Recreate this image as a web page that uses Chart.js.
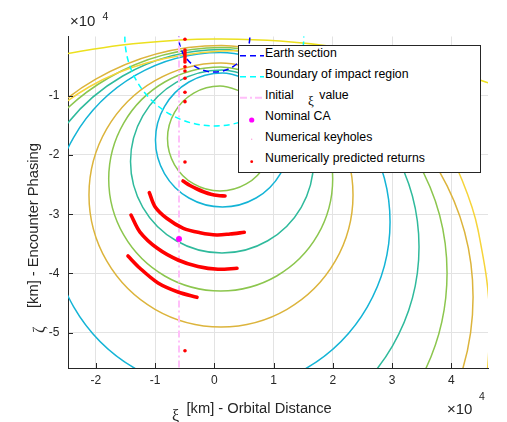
<!DOCTYPE html>
<html><head><meta charset="utf-8">
<script src="https://cdn.jsdelivr.net/npm/chart.js@4.4.1/dist/chart.umd.min.js"></script>
<style>
html,body{margin:0;padding:0;background:#fff;}
#wrap{position:relative;width:507px;height:422px;overflow:hidden;font-family:"Liberation Sans",Arial,sans-serif;color:#262626;}
#c{position:absolute;left:0;top:0;}
.t{position:absolute;white-space:nowrap;line-height:1;}
.serif{font-family:"Liberation Serif","DejaVu Serif",serif;}
#legend{position:absolute;left:238px;top:45px;width:241px;height:126px;background:#fff;border:1px solid #262626;color:#000;}
#legend .t{font-size:12.3px;}
.rot{transform-origin:0 0;transform:rotate(-90deg);}
</style></head>
<body><div id="wrap">
<canvas id="c" width="507" height="422"></canvas>

<div class="t" style="left:70px;top:13px;font-size:15px;">×10</div>
<div class="t" style="left:102.5px;top:10.5px;font-size:10.5px;">4</div>
<div class="t" style="left:447px;top:401px;font-size:15px;">×10</div>
<div class="t" style="left:479px;top:391px;font-size:10.5px;">4</div>

<div class="t serif" style="left:172px;top:407.5px;font-size:16px;">ξ</div>
<div class="t" style="left:186.5px;top:400.9px;font-size:14.7px;">[km] - Orbital Distance</div>
<div class="t serif rot" style="left:31px;top:333px;font-size:16px;">ζ</div>
<div class="t rot" style="left:26.4px;top:308px;font-size:14.7px;">[km] - Encounter Phasing</div>

<div id="legend">
  <svg width="241" height="126" style="position:absolute;left:0;top:0;">
    <line x1="1" y1="9.8" x2="25" y2="9.8" stroke="#0000ff" stroke-width="1.5" stroke-dasharray="6,4"/>
    <line x1="1" y1="30.8" x2="25" y2="30.8" stroke="#00ffff" stroke-width="1.5" stroke-dasharray="6,4"/>
    <line x1="1" y1="51.8" x2="25" y2="51.8" stroke="#ffbff9" stroke-width="2" stroke-dasharray="7,3,2,3"/>
    <circle cx="12.7" cy="74" r="2.6" fill="#ff00ff"/>
    <circle cx="12.7" cy="93.3" r="0.7" fill="#ff9ad8"/>
    <circle cx="12.7" cy="115.7" r="1.4" fill="#ff0000"/>
  </svg>
  <div class="t" style="left:26px;top:0.9px;">Earth section</div>
  <div class="t" style="left:26px;top:21.9px;">Boundary of impact region</div>
  <div class="t" style="left:26px;top:42.9px;">Initial</div>
  <div class="t serif" style="left:69px;top:47.6px;font-size:13px;">ξ</div>
  <div class="t" style="left:80.3px;top:42.9px;">value</div>
  <div class="t" style="left:26px;top:63.9px;">Nominal CA</div>
  <div class="t" style="left:26px;top:84.9px;">Numerical keyholes</div>
  <div class="t" style="left:26px;top:105.9px;">Numerically predicted returns</div>
</div>
</div>
<script>
// ---- axis ticks (km) ----
const xiTicks = [-20000, -10000, 0, 10000, 20000, 30000, 40000];
const zetaTicks = [-50000, -40000, -30000, -20000, -10000];
const xiLimits = [-24690, 46190];
const zetaLimits = [-55950, 0];

// ---- contour curves, points [xi, zeta] in km ----
const contourGoldInner = [[12270,-7460],[1130,-4470],[-10010,-7460],[-18160,-15610],[-21150,-26750],[-18160,-37890],[-10010,-46050],[1130,-49030],[12270,-46050],[20430,-37890],[23410,-26750],[20430,-15610],[12270,-7460]];
const contourGreenMid = [[10530,-7680],[1080,-5150],[-8370,-7680],[-15290,-14600],[-17820,-24050],[-15290,-33500],[-8370,-40420],[1080,-42950],[10530,-40420],[17450,-33500],[19980,-24050],[17450,-14600],[10530,-7680]];
const contourTealMid = [[9020,-7730],[1300,-5660],[-6420,-7730],[-12070,-13380],[-14140,-21100],[-12070,-28820],[-6420,-34470],[1300,-36540],[9020,-34470],[14670,-28820],[16740,-21100],[14670,-13380],[9020,-7730]];
const contourCyanSmall = [[7040,-7680],[1380,-6160],[-4280,-7680],[-8410,-11820],[-9930,-17470],[-8410,-23130],[-4280,-27260],[1380,-28780],[7040,-27260],[11170,-23130],[12690,-17470],[11170,-11820],[7040,-7680]];
const contourGreenInner = [[5390,-9550],[960,-8360],[-3470,-9550],[-6710,-12790],[-7900,-17220],[-6710,-21650],[-3470,-24890],[960,-26080],[5390,-24890],[8630,-21650],[9820,-17220],[8630,-12790],[5390,-9550]];
const contourCyanOuter = [[15360,-6530],[1050,-2700],[-13260,-6530],[-23730,-17010],[-27560,-31310],[-23730,-45620],[-13260,-56090],[1050,-59920],[15360,-56090],[25830,-45620],[29660,-31310],[25830,-17010],[15360,-6530]];
const contourTealOuter = [[17890,-6670],[1220,-2200],[-15450,-6670],[-27640,-18870],[-32110,-35530],[-27640,-52200],[-15450,-64390],[1220,-68860],[17890,-64390],[30080,-52200],[34550,-35530],[30080,-18870],[17890,-6670]];
const contourGreenOuter = [[20250,-6960],[1220,-1860],[-17810,-6960],[-31740,-20890],[-36840,-39920],[-31740,-58950],[-17810,-72880],[1220,-77980],[20250,-72880],[34180,-58950],[39280,-39920],[34180,-20890],[20250,-6960]];
const contourGoldOuter = [[22450,-7210],[1220,-1520],[-20010,-7210],[-35540,-22750],[-41230,-43970],[-35540,-65200],[-20010,-80730],[1220,-86420],[22450,-80730],[37980,-65200],[43670,-43970],[37980,-22750],[22450,-7210]];
const contourYellowOuter = [[37670,-15780],[41810,-24220],[44510,-32660],[46450,-48190],[44270,-64730],[34720,-81600],[1810,-94260],[-21150,-88020],[-37860,-71310],[-44100,-48350],[-37860,-25400],[-21150,-8520],[1300,-2450],[21220,-5990],[37670,-15780]];
const contourYellowTop = [[-26040,-3090],[-15900,-1470],[-5790,-590],[1220,-420],[11090,-780],[21220,-1860],[31340,-3680],[41470,-6300],[48220,-8490]];

// ---- other series ----
const earthSection = [[0,6000],[-3000,5200],[-5200,3000],[-6000,0],[-5200,-3000],[-3000,-5200],[0,-6000],[3000,-5200],[5200,-3000],[6000,0],[5200,3000],[3000,5200],[0,6000]];
const impactBoundary = [[0,15100],[-7550,13080],[-13080,7550],[-15100,0],[-13080,-7550],[-7550,-13080],[0,-15100],[7550,-13080],[13080,-7550],[15100,0],[13080,7550],[7550,13080],[0,15100]];
const initialXi = [[-5960,1000],[-5960,-57000]];
const nominalCA = [[-5960,-34180]];
const returnDots = [[-4950,-470],[-4950,-2280],[-4950,-2610],[-4950,-2950],[-4950,-3290],[-4950,-3630],[-4950,-3970],[-4950,-4300],[-4950,-5100],[-4950,-5820],[-4950,-7050],[-4950,-9420],[-4950,-11000],[-4950,-21180],[-4950,-53030]];
const returnArc1 = [[-5280,-24390],[-4100,-25150],[-2920,-25740],[-1740,-26240],[-560,-26630],[620,-26840],[1810,-26920]];
const returnArc2 = [[-10970,-26360],[-10000,-28730],[-8030,-30680],[-5230,-32370],[-2410,-33110],[410,-33500],[2650,-33330],[5060,-33050]];
const returnArc3 = [[-14060,-30130],[-12540,-33000],[-9670,-35700],[-6130,-37720],[-2750,-38820],[620,-39290],[3830,-39120]];
const returnArc4 = [[-14570,-37050],[-12540,-39120],[-9500,-41600],[-6130,-43120],[-2920,-44020]];

const P = a => a.map(([x, y]) => ({x, y}));
const C = {cyan:'#14b4d6', teal:'#2fba9c', green:'#8cc64e', gold:'#dcb43c', yellow:'#f6d43a', top:'#ece01e'};

function contourDs(data, color){
  return {data:P(data), showLine:true, borderColor:color, borderWidth:1.5, pointRadius:0, tension:0.35, fill:false, order:10};
}
const datasets = [
  contourDs(contourYellowTop, C.top),
  contourDs(contourYellowOuter, C.yellow),
  contourDs(contourGoldOuter, C.gold),
  contourDs(contourGreenOuter, C.green),
  contourDs(contourTealOuter, C.teal),
  contourDs(contourCyanOuter, C.cyan),
  contourDs(contourGoldInner, C.gold),
  contourDs(contourGreenMid, C.green),
  contourDs(contourTealMid, C.teal),
  contourDs(contourCyanSmall, C.cyan),
  contourDs(contourGreenInner, C.green),
  {data:P(earthSection), showLine:true, borderColor:'#0000ff', borderWidth:1.5, borderDash:[6,4], pointRadius:0, tension:0.35, order:6},
  {data:P(impactBoundary), showLine:true, borderColor:'#00ffff', borderWidth:1.5, borderDash:[6,4], pointRadius:0, tension:0.35, order:5},
  {data:P(initialXi), showLine:true, borderColor:'#ffbff9', borderWidth:2, borderDash:[7,3,2,3], pointRadius:0, order:4},
  {data:P(returnArc1), showLine:true, borderColor:'#ff0000', borderWidth:3.6, borderCapStyle:'round', pointRadius:0, tension:0.3, order:2},
  {data:P(returnArc2), showLine:true, borderColor:'#ff0000', borderWidth:3.6, borderCapStyle:'round', pointRadius:0, tension:0.3, order:2},
  {data:P(returnArc3), showLine:true, borderColor:'#ff0000', borderWidth:3.6, borderCapStyle:'round', pointRadius:0, tension:0.3, order:2},
  {data:P(returnArc4), showLine:true, borderColor:'#ff0000', borderWidth:3.6, borderCapStyle:'round', pointRadius:0, tension:0.3, order:2},
  {data:P(returnDots), showLine:false, pointRadius:1.8, pointBorderWidth:0, backgroundColor:'#ff0000', borderColor:'#ff0000', order:2},
  {data:P(nominalCA), showLine:false, pointRadius:3, pointBorderWidth:0, backgroundColor:'#ff00ff', borderColor:'#ff00ff', order:1}
];

const inwardTicks = {
  id:'inwardTicks',
  afterDraw(chart){
    const {ctx, chartArea:a, scales:{x, y}} = chart;
    ctx.save();
    ctx.strokeStyle = '#262626'; ctx.lineWidth = 1;
    ctx.beginPath();
    for (const v of xiTicks){ const p = Math.round(x.getPixelForValue(v)) + 0.5; ctx.moveTo(p, a.bottom); ctx.lineTo(p, a.bottom - 5); }
    for (const v of zetaTicks){ const p = Math.round(y.getPixelForValue(v)) + 0.5; ctx.moveTo(a.left, p); ctx.lineTo(a.left + 5, p); }
    ctx.stroke();
    ctx.restore();
  }
};

const tickFont = {family:'"Liberation Sans", Arial, sans-serif', size:12};
new Chart(document.getElementById('c'), {
  type:'scatter',
  data:{datasets},
  options:{
    responsive:false, animation:false, devicePixelRatio:1,
    layout:{padding:{left:0, right:19, top:36.5, bottom:0}},
    elements:{line:{capBezierPoints:false}},
    plugins:{legend:{display:false}, tooltip:{enabled:false}},
    scales:{
      x:{type:'linear', min:xiLimits[0], max:xiLimits[1],
         afterBuildTicks(s){ s.ticks = xiTicks.map(v => ({value:v})); },
         afterFit(s){ s.height = 54; },
         ticks:{callback:v => String(v/1e4), color:'#262626', font:tickFont, padding:5, maxRotation:0, autoSkip:false},
         grid:{color:'#e3e3e3', drawTicks:false},
         border:{display:true, color:'#262626', width:1}},
      y:{type:'linear', min:zetaLimits[0], max:zetaLimits[1],
         afterBuildTicks(s){ s.ticks = zetaTicks.map(v => ({value:v})); },
         afterFit(s){ s.width = 68; },
         ticks:{callback:v => String(v/1e4), color:'#262626', font:tickFont, padding:8.5, autoSkip:false},
         grid:{color:'#e3e3e3', drawTicks:false},
         border:{display:true, color:'#262626', width:1}}
    }
  },
  plugins:[inwardTicks]
});
</script>
</body></html>
